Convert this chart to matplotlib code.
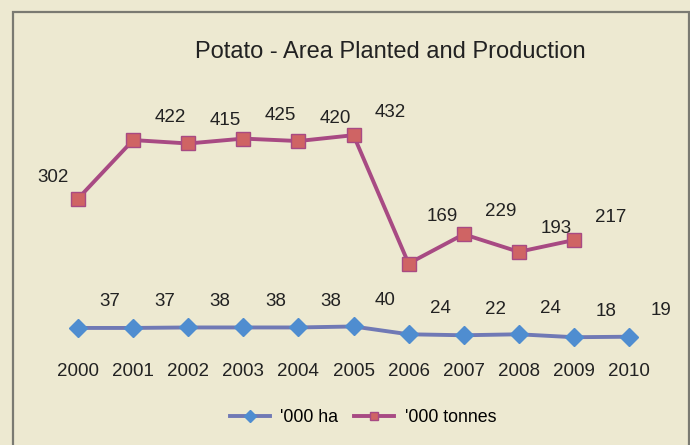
import matplotlib
matplotlib.use("Agg")
import matplotlib.pyplot as plt
from matplotlib.patches import Rectangle

## chart data
years = ['2000', '2001', '2002', '2003', '2004', '2005', '2006', '2007', '2008', '2009', '2010']
area_ha = [37, 37, 38, 38, 38, 40, 24, 22, 24, 18, 19]          # '000 ha
prod_tonnes = [302, 422, 415, 425, 420, 432, 169, 229, 193, 217]  # '000 tonnes

title = 'Potato - Area Planted and Production'
bg = '#EDE9D1'
blue_line = '#7079B5'
blue_mark = '#4F8DD0'
red_line = '#A84A83'
red_mark = '#CF6464'

plt.rcParams['font.family'] = ['Liberation Sans', 'DejaVu Sans']

fig = plt.figure(figsize=(6.9, 4.45), dpi=100, facecolor=bg)
W, H = 690, 445

# outer frame like the excel chart area
fig.patches.append(Rectangle((13 / W, -0.05), (689 - 13) / W, 1.05 - 12 / H,
                             transform=fig.transFigure, fill=False,
                             edgecolor='#7a7a72', linewidth=1.6))

ax = fig.add_axes([50.5 / W, 1 - 346 / H, 606 / W, 244 / H])
ax.set_facecolor('none')
x = list(range(len(years)))

ax.plot(x, area_ha, color=blue_line, lw=2.8, marker='D', ms=9,
        mfc=blue_mark, mec=blue_mark, label="'000 ha", zorder=3)
ax.plot(x[:len(prod_tonnes)], prod_tonnes, color=red_line, lw=2.8, marker='s', ms=9.5,
        mfc=red_mark, mec=red_line, mew=1.0, label="'000 tonnes", zorder=3)

# data labels (excel put them up and to the right)
for i, v in enumerate(area_ha):
    ax.annotate(str(v), (x[i], v), xytext=(32, 26), textcoords='offset pixels',
                ha='center', va='center', fontsize=13.5, color='#222222')
for i, v in enumerate(prod_tonnes):
    off = (37, 23)
    if i == 0:
        off = (-25, 21)
    elif i == 6:
        off = (34, 47)
    ax.annotate(str(v), (x[i], v), xytext=off, textcoords='offset pixels',
                ha='center', va='center', fontsize=13.5, color='#222222')

ax.set_xlim(-0.5, 10.5)
ax.set_ylim(0, 500)
ax.set_xticks(x)
ax.set_xticklabels(years, fontsize=13.5, color='#222222')
ax.tick_params(axis='x', length=0, pad=12)
ax.set_yticks([])
for s in ax.spines.values():
    s.set_visible(False)

fig.text(390 / W, 1 - 52 / H, title, ha='center', va='center', fontsize=17, color='#222222')

fig.legend(loc='center', bbox_to_anchor=(363 / W, 1 - 418 / H), ncol=2, frameon=False,
           fontsize=12.8, handlelength=2.25, handletextpad=0.6, columnspacing=0.9,
           markerscale=0.65)

fig.savefig('out.png', dpi=100, facecolor=bg)
